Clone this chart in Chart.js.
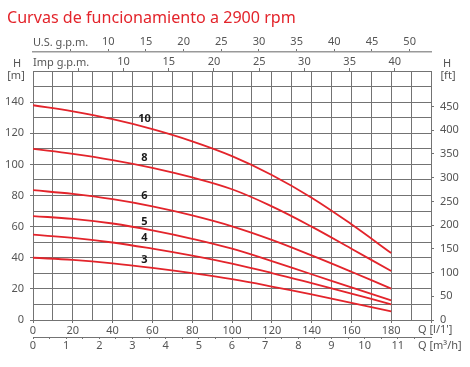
<!DOCTYPE html>
<html>
<head>
<meta charset="utf-8">
<script src="https://cdn.jsdelivr.net/npm/chart.js@4.4.1/dist/chart.umd.min.js"></script>
<style>
  html, body { margin: 0; padding: 0; background: #fff; }
  #wrap { width: 470px; height: 367px; }
</style>
</head>
<body>
<div id="wrap"><canvas id="curvas"></canvas></div>
<script>
// caudal Q [l/min]
var flow = [0, 20, 40, 60, 80, 100, 120, 140, 160, 180];
// altura H [m] por numero de etapas
var stage3  = [40, 38.6, 36.4, 33.5, 30.1, 26.2, 21.5, 16.4, 11, 5.5];
var stage4  = [54.8, 52.8, 49.8, 45.8, 41.3, 36.2, 30.2, 23.7, 17, 10];
var stage5  = [66.8, 65, 62, 57.6, 52.2, 45.8, 37.8, 29.4, 21, 12.6];
var stage6  = [83.4, 81, 77.6, 73, 67.2, 60.2, 51.5, 41.5, 31, 20.2];
var stage8  = [110, 106.8, 102.8, 97.8, 91.6, 84, 73, 60, 45.8, 31.5];
var stage10 = [138, 134, 129, 122.6, 114.8, 105.3, 93.2, 78.6, 61.5, 43];
var stageNames = ['3', '4', '5', '6', '8', '10'];
var stageLabelH = [38.6, 52.6, 63.3, 80, 104.5, 129]; // where the stage number sits
var stageLabelQ = 56;

var title = 'Curvas de funcionamiento a 2900 rpm';
var red = '#e3242b';
var gridCol = '#737373';
var txtCol = '#555';
var tickFont = { family: 'Noto Sans', size: 11 };

// unit conversions
var L_PER_USGAL = 3.78541;
var L_PER_IMPGAL = 4.54609;
var LPM_PER_M3H = 1000 / 60;
var FT_PER_M = 3.28084;
var qMax = 200, hMax = 160;

function toPoints(arr) {
  return arr.map(function(h, i) { return { x: flow[i], y: h }; });
}

var allStages = [stage3, stage4, stage5, stage6, stage8, stage10];
var datasets = allStages.map(function(s, i) {
  return {
    label: stageNames[i],
    data: toPoints(s),
    borderColor: red,
    borderWidth: 1.8,
    pointRadius: 0,
    fill: false,
    tension: 0.4
  };
});

function near(v, step) {
  return Math.abs(v / step - Math.round(v / step)) < 1e-6;
}

var decor = {
  id: 'decor',
  afterDraw: function(chart) {
    var c = chart.ctx;
    var xs = chart.scales.x, ys = chart.scales.y;
    c.save();
    // title, fitted to the width it has in the original
    c.fillStyle = red;
    c.textBaseline = 'alphabetic';
    c.textAlign = 'left';
    c.font = '16px "Noto Sans"';
    var w = c.measureText(title).width;
    var fs = 16 * 289 / w;
    c.font = fs.toFixed(2) + 'px "Noto Sans"';
    c.fillText(title, 7, 23);

    // stage numbers
    c.fillStyle = '#1a1a1a';
    c.font = 'bold 11px "Noto Sans"';
    c.textAlign = 'center';
    c.textBaseline = 'middle';
    for (var i = 0; i < stageNames.length; i++) {
      c.fillText(stageNames[i], xs.getPixelForValue(stageLabelQ), ys.getPixelForValue(stageLabelH[i]));
    }

    // axis names
    c.fillStyle = txtCol;
    c.font = '11px "Noto Sans"';
    c.textAlign = 'left';
    c.fillText('U.S. g.p.m.', chart.chartArea.left, 43);
    c.fillText('Imp g.p.m.', chart.chartArea.left, 63);
    c.fillText("Q [l/1']", 418, 330);
    c.fillText('Q [m\u00b3/h]', 418, 346);
    c.textAlign = 'center';
    c.fillText('H', 17, 64);
    c.fillText('[m]', 16, 76);
    c.fillText('H', 447, 64);
    c.fillText('[ft]', 448, 76);
    c.restore();
  }
};

var ctx = document.getElementById('curvas').getContext('2d');
new Chart(ctx, {
  type: 'line',
  data: { datasets: datasets },
  plugins: [decor],
  options: {
    responsive: true,
    maintainAspectRatio: false,
    animation: false,
    layout: { padding: { top: 30, left: 0, right: 0, bottom: 0 } },
    plugins: {
      legend: { display: false },
      title: { display: false },
      tooltip: { enabled: false }
    },
    scales: {
      x: {
        type: 'linear', position: 'bottom', weight: 0,
        min: 0, max: qMax,
        ticks: {
          stepSize: 10, autoSkip: false, maxRotation: 0, padding: 1,
          color: txtCol, font: tickFont,
          callback: function(v) { return (near(v, 20) && v < 190) ? v : ''; }
        },
        grid: {
          color: gridCol, lineWidth: 1, tickLength: 3,
          tickColor: function(c) { return near(c.tick.value, 20) ? gridCol : 'transparent'; }
        },
        border: { color: gridCol },
        afterFit: function(s) { s.height = 17; }
      },
      m3h: {
        type: 'linear', position: 'bottom', weight: 1,
        min: 0, max: qMax / LPM_PER_M3H,
        ticks: {
          stepSize: 0.5, autoSkip: false, maxRotation: 0, padding: 0, includeBounds: false,
          color: txtCol, font: tickFont,
          callback: function(v) { return (near(v, 1) && v <= 11) ? v : ''; }
        },
        grid: {
          drawOnChartArea: false, tickLength: 2,
          tickColor: function(c) { return (near(c.tick.value, 0.5) && c.tick.value <= 11.5) ? gridCol : 'transparent'; }
        },
        border: { color: gridCol },
        afterFit: function(s) { s.height = 30; }
      },
      usgpm: {
        type: 'linear', position: 'top', weight: 2,
        min: 0, max: qMax / L_PER_USGAL,
        ticks: {
          stepSize: 5, autoSkip: false, maxRotation: 0, padding: 1, includeBounds: false,
          color: txtCol, font: tickFont,
          callback: function(v) { return (near(v, 5) && v >= 10 && v <= 50) ? v : ''; }
        },
        grid: {
          drawOnChartArea: false, tickLength: 3,
          tickColor: function(c) { return (near(c.tick.value, 5) && c.tick.value > 0) ? gridCol : 'transparent'; }
        },
        border: { color: '#999', width: 1.5 },
        afterFit: function(s) { s.height = 22; }
      },
      impgpm: {
        type: 'linear', position: 'top', weight: 1,
        min: 0, max: qMax / L_PER_IMPGAL,
        ticks: {
          stepSize: 5, autoSkip: false, maxRotation: 0, padding: 0, includeBounds: false,
          color: txtCol, font: tickFont,
          callback: function(v) { return (near(v, 5) && v >= 10 && v <= 40) ? v : ''; }
        },
        grid: {
          drawOnChartArea: false, tickLength: 3,
          tickColor: function(c) { return (near(c.tick.value, 5) && c.tick.value > 0) ? gridCol : 'transparent'; }
        },
        border: { color: gridCol },
        afterFit: function(s) { s.height = 19; }
      },
      y: {
        type: 'linear', position: 'left',
        min: 0, max: hMax,
        ticks: {
          stepSize: 10, autoSkip: false, padding: 6,
          color: txtCol, font: tickFont,
          callback: function(v) { return (near(v, 20) && v < 150) ? v : ''; }
        },
        grid: {
          color: gridCol, lineWidth: 1, tickLength: 3,
          tickColor: function(c) { return (near(c.tick.value, 20) && c.tick.value < 150) ? gridCol : 'transparent'; }
        },
        border: { color: gridCol },
        afterFit: function(s) { s.width = 33; }
      },
      ft: {
        type: 'linear', position: 'right',
        min: 0, max: hMax * FT_PER_M,
        ticks: {
          stepSize: 50, autoSkip: false, padding: 6, includeBounds: false,
          color: txtCol, font: tickFont,
          callback: function(v) { return (near(v, 50) && v <= 450) ? v : ''; }
        },
        grid: {
          drawOnChartArea: false, tickLength: 3,
          tickColor: function(c) { return (near(c.tick.value, 50) && c.tick.value <= 450) ? gridCol : 'transparent'; }
        },
        border: { color: gridCol },
        afterFit: function(s) { s.width = 39; }
      }
    }
  }
});
</script>
</body>
</html>
